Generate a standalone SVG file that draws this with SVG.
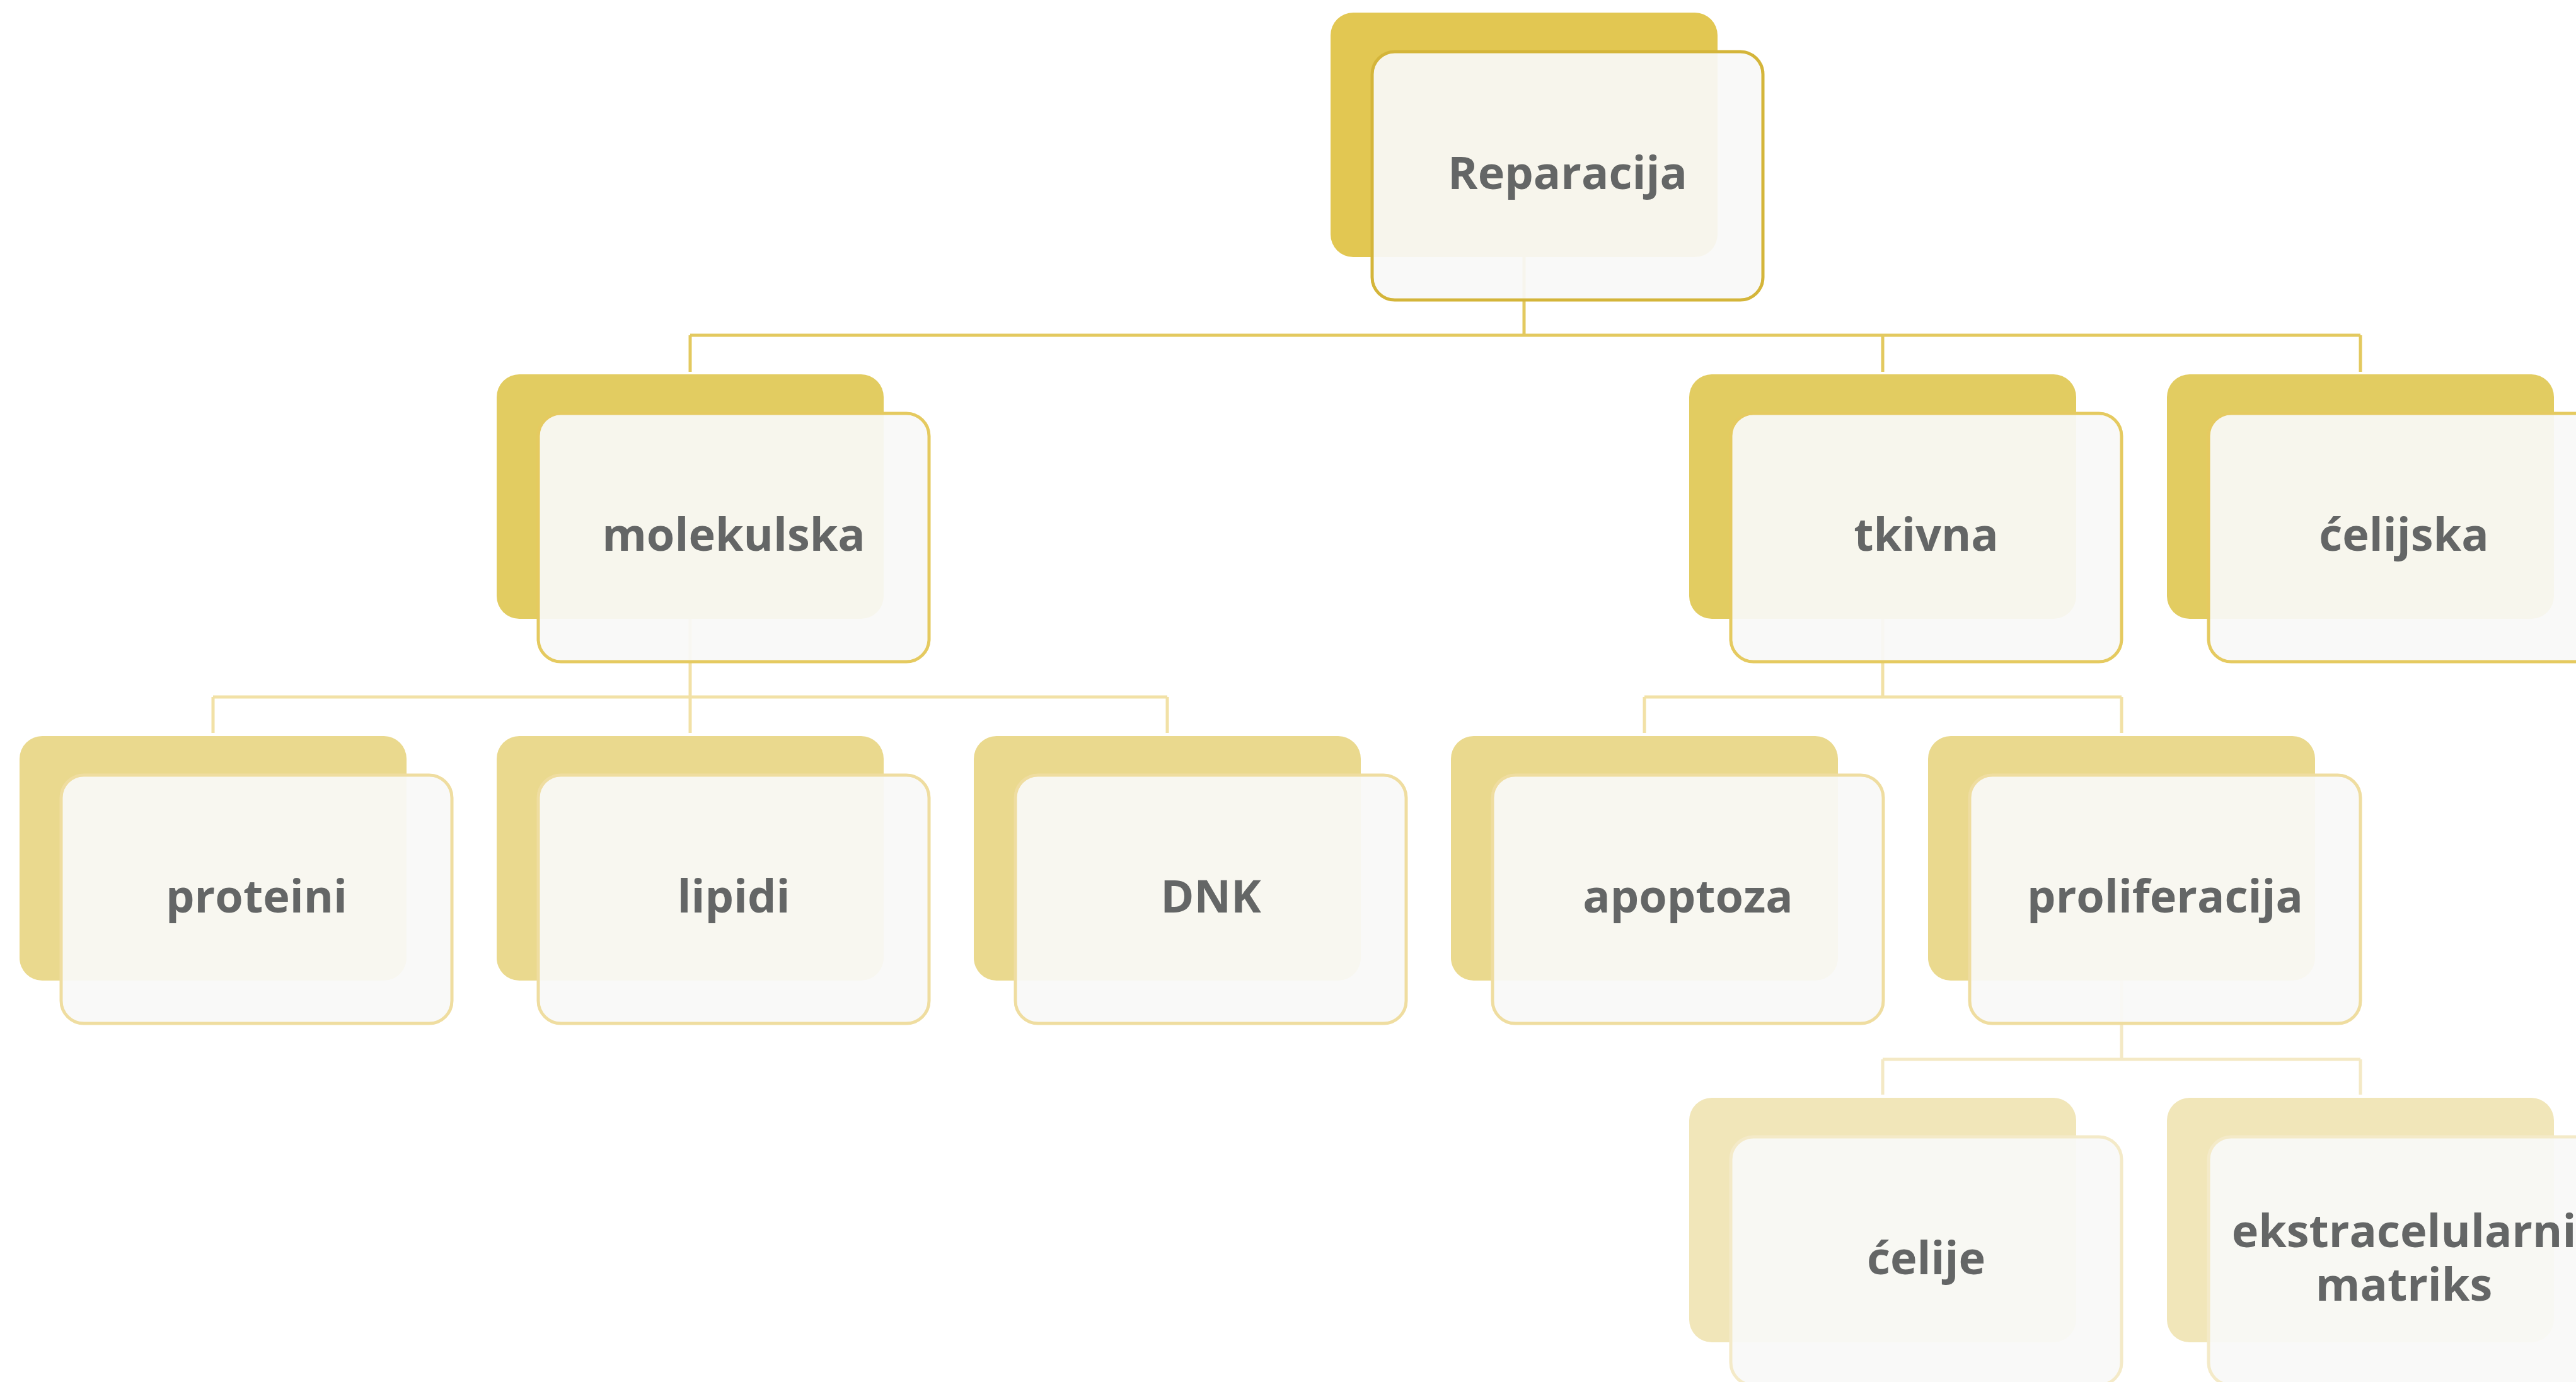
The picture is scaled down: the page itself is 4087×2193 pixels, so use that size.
<svg xmlns="http://www.w3.org/2000/svg" width="4087" height="2193" viewBox="0 0 4087 2193">
<style>
.bk{stroke:none}
.fr{fill:#F9F9F7;fill-opacity:0.93;stroke-width:5}
.t{font-family:"Open Sans","Noto Sans","Liberation Sans",sans-serif;font-weight:700;font-size:72px;fill:#646666;text-anchor:middle}
.l0 .bk{fill:#E2C752}.l0 .fr{stroke:#D4B53A}
.l1 .bk{fill:#E2CC61}.l1 .fr{stroke:#E5CA60}
.l2 .bk{fill:#EAD98E}.l2 .fr{stroke:#EFDDA0}
.l3 .bk{fill:#F1E6B9}.l3 .fr{stroke:#F4EAC8}
.c{fill:none;stroke-width:5}
</style>
<rect width="4087" height="2193" fill="#FFFFFF"/>
<g id="connectors">
<path class="c" stroke="#E3C95F" d="M2418,408 V532 M1095,532 H3745 M1095,532 V590 M2987,532 V590 M3745,532 V590"/>
<path class="c" stroke="#F2E1A6" d="M1095,982 V1106 M338,1106 H1852 M338,1106 V1163 M1095,1106 V1163 M1852,1106 V1163"/>
<path class="c" stroke="#F2E1A6" d="M2987,982 V1106 M2609,1106 H3366 M2609,1106 V1163 M3366,1106 V1163"/>
<path class="c" stroke="#F4E9C5" d="M3366,1556 V1681 M2987,1681 H3745 M2987,1681 V1737 M3745,1681 V1737"/>
</g>
<g id="n-reparacija" class="l0"><rect class="bk" x="2111" y="20" width="614" height="388" rx="36"/><rect class="fr" x="2177" y="82" width="620" height="394" rx="36"/><text class="t" x="2487" y="300">Reparacija</text></g>
<g id="n-molekulska" class="l1"><rect class="bk" x="788" y="594" width="614" height="388" rx="36"/><rect class="fr" x="854" y="656" width="620" height="394" rx="36"/><text class="t" x="1164" y="874">molekulska</text></g>
<g id="n-tkivna" class="l1"><rect class="bk" x="2680" y="594" width="614" height="388" rx="36"/><rect class="fr" x="2746" y="656" width="620" height="394" rx="36"/><text class="t" x="3056" y="874">tkivna</text></g>
<g id="n-celijska" class="l1"><rect class="bk" x="3438" y="594" width="614" height="388" rx="36"/><rect class="fr" x="3504" y="656" width="620" height="394" rx="36"/><text class="t" x="3814" y="874">ćelijska</text></g>
<g id="n-proteini" class="l2"><rect class="bk" x="31" y="1168" width="614" height="388" rx="36"/><rect class="fr" x="97" y="1230" width="620" height="394" rx="36"/><text class="t" x="407" y="1448">proteini</text></g>
<g id="n-lipidi" class="l2"><rect class="bk" x="788" y="1168" width="614" height="388" rx="36"/><rect class="fr" x="854" y="1230" width="620" height="394" rx="36"/><text class="t" x="1164" y="1448">lipidi</text></g>
<g id="n-dnk" class="l2"><rect class="bk" x="1545" y="1168" width="614" height="388" rx="36"/><rect class="fr" x="1611" y="1230" width="620" height="394" rx="36"/><text class="t" x="1921" y="1448">DNK</text></g>
<g id="n-apoptoza" class="l2"><rect class="bk" x="2302" y="1168" width="614" height="388" rx="36"/><rect class="fr" x="2368" y="1230" width="620" height="394" rx="36"/><text class="t" x="2678" y="1448">apoptoza</text></g>
<g id="n-proliferacija" class="l2"><rect class="bk" x="3059" y="1168" width="614" height="388" rx="36"/><rect class="fr" x="3125" y="1230" width="620" height="394" rx="36"/><text class="t" x="3435" y="1448">proliferacija</text></g>
<g id="n-celije" class="l3"><rect class="bk" x="2680" y="1742" width="614" height="388" rx="36"/><rect class="fr" x="2746" y="1804" width="620" height="394" rx="36"/><text class="t" x="3056" y="2022">ćelije</text></g>
<g id="n-ekstracelularni" class="l3"><rect class="bk" x="3438" y="1742" width="614" height="388" rx="36"/><rect class="fr" x="3504" y="1804" width="620" height="394" rx="36"/><text class="t" x="3814" y="1979">ekstracelularni</text><text class="t" x="3814" y="2064">matriks</text></g>
</svg>
